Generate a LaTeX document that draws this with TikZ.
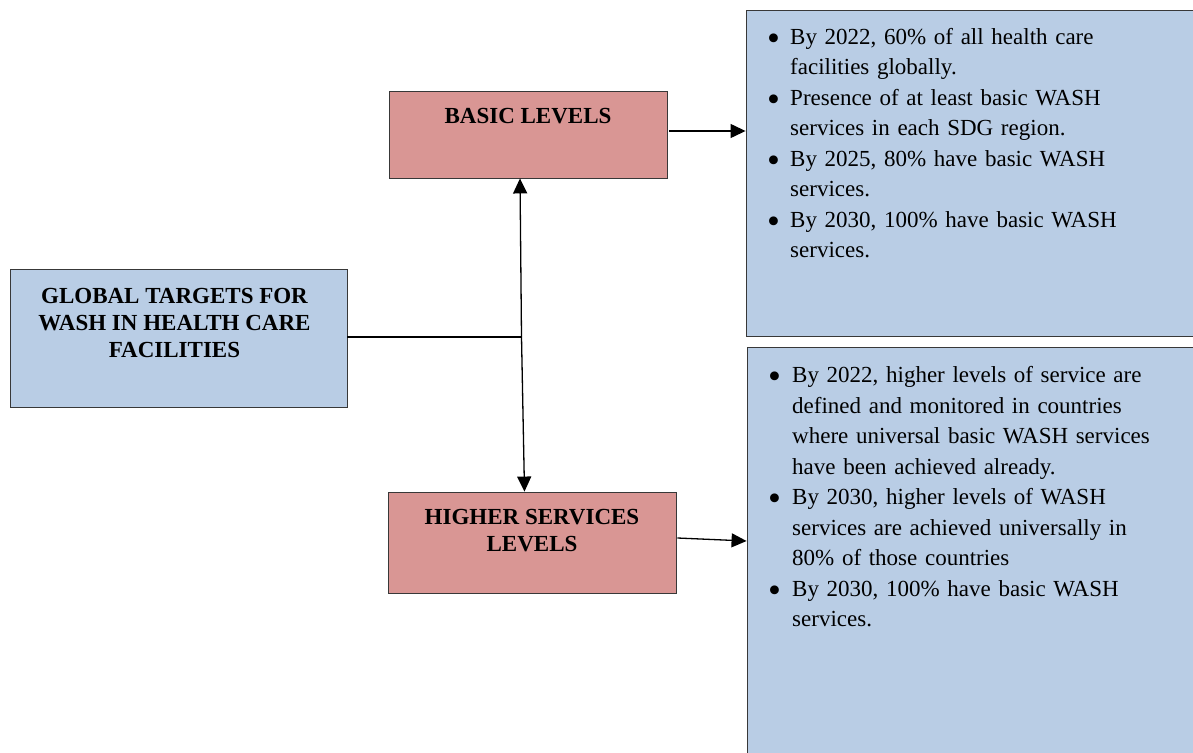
\documentclass[tikz,border=0pt]{standalone}
\usepackage{fontspec}
\setmainfont{Liberation Serif}
\usetikzlibrary{arrows.meta}
\definecolor{boxblue}{HTML}{B9CDE5}
\definecolor{boxpink}{HTML}{D99694}
\definecolor{boxline}{HTML}{383838}
\newcommand{\bulletline}[2][23pt]{\par\hangindent=#1\hangafter=1\noindent\makebox[#1][l]{\raisebox{-6pt}{\scalebox{1.6}{\textbullet}}}#2\par}
\begin{document}
\begin{tikzpicture}[x=1pt,y=-1pt,
    bluebox/.style={draw=boxline,fill=boxblue,line width=0.9pt,inner sep=0pt},
    pinkbox/.style={draw=boxline,fill=boxpink,line width=0.9pt,inner sep=0pt},
    title/.style={font=\bfseries\fontsize{23}{27}\selectfont,align=center,inner sep=0pt,anchor=north},
    bodytext/.style={font=\fontsize{23}{30.5}\selectfont,text width=420pt,inner sep=0pt,anchor=base west},
    arr/.style={-{Triangle[length=15pt,width=14pt]},line width=1.3pt}]
        \useasboundingbox (0,0) rectangle (1193,752);
        \clip (0,0) rectangle (1193,752);

        \node[bluebox,minimum width=337,minimum height=138] (global)     at (178.5,338) {};
        \node[pinkbox,minimum width=278,minimum height=87]  (basic)      at (528,134.5) {};
        \node[pinkbox,minimum width=288,minimum height=101] (higher)     at (532,542.5) {};
        \node[bluebox,minimum width=460,minimum height=326] (basicinfo)  at (976,173) {};
        \node[bluebox,minimum width=460,minimum height=420] (higherinfo) at (977,557) {};

        \node[title] (globaltxt) at (174.5,288) {GLOBAL TARGETS FOR\\WASH IN HEALTH CARE\\FACILITIES};
        \node[title] (basictxt)  at (528,108)   {BASIC LEVELS};
        \node[title] (highertxt) at (532,509)   {HIGHER SERVICES\\LEVELS};

        \node[bodytext] (basiclist) at (767,14) {%
            \bulletline{By 2022, 60\% of all health care\newline facilities globally.}%
            \bulletline{Presence of at least basic WASH\newline services in each SDG region.}%
            \bulletline{By 2025, 80\% have basic WASH\newline services.}%
            \bulletline{By 2030, 100\% have basic WASH\newline services.}};
        \node[bodytext] (higherlist) at (768,352) {%
            \bulletline[24pt]{By 2022, higher levels of service are\newline defined and monitored in countries\newline where universal basic WASH services\newline have been achieved already.}%
            \bulletline[24pt]{By 2030, higher levels of WASH\newline services are achieved universally in\newline 80\% of those countries}%
            \bulletline[24pt]{By 2030, 100\% have basic WASH\newline services.}};

        \coordinate (junc) at (521.5,337);
        \draw[line width=1.3pt] (global.east |- junc) -- (junc);
        \draw[arr] (junc) -- ([xshift=-8pt]basic.south);
        \draw[arr] (junc) -- ([xshift=-7.5pt]higher.north);

        \draw[arr] ([xshift=2pt,yshift=3.5pt]basic.east) -- ([yshift=3.5pt]basic.east -| basicinfo.west);
        \draw[arr] ([xshift=1pt,yshift=4.5pt]higher.east) -- ([yshift=1.5pt]higher.east -| higherinfo.west);
    \end{tikzpicture}
\end{document}
